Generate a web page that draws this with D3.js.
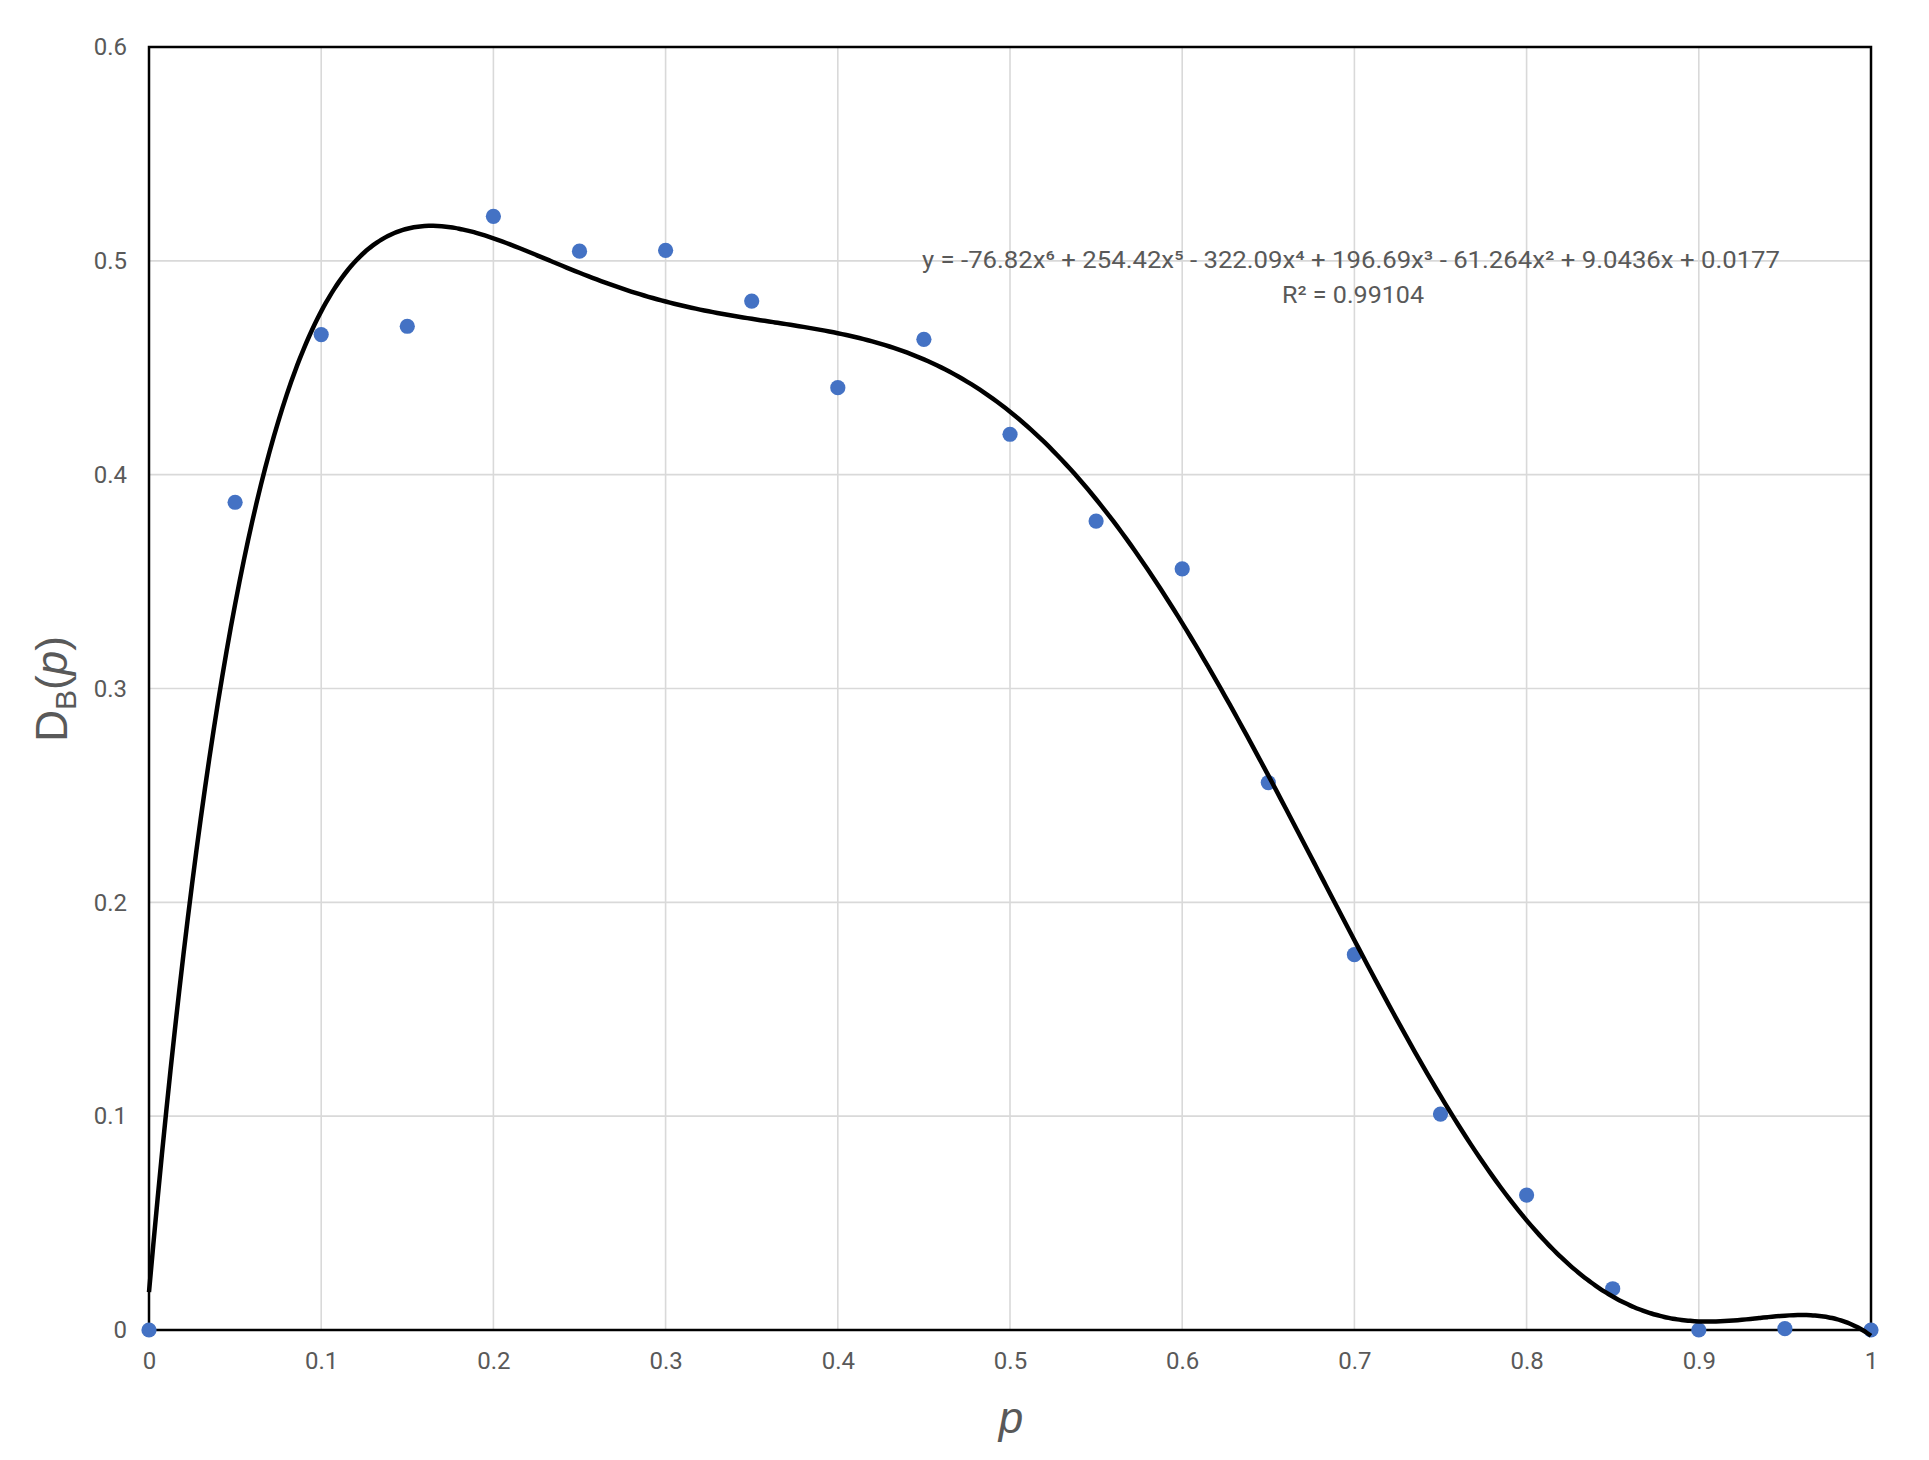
<!DOCTYPE html>
<html>
<head>
<meta charset="utf-8">
<script src="https://cdn.jsdelivr.net/npm/d3@7"></script>
<style>
  html, body { margin: 0; padding: 0; background: #ffffff; }
  svg { display: block; }
  text { font-family: "Roboto", "Liberation Sans", sans-serif; fill: #595959; }
</style>
</head>
<body>
<svg id="chart" width="1929" height="1460"></svg>
<script>
// ---- data ----
const pValues = [0, 0.05, 0.1, 0.15, 0.2, 0.25, 0.3, 0.35, 0.4, 0.45, 0.5, 0.55, 0.6, 0.65, 0.7, 0.75, 0.8, 0.85, 0.9, 0.95, 1];
const dbValues = [0, 0.3871, 0.4655, 0.4694, 0.5208, 0.5045, 0.5049, 0.4812, 0.4407, 0.4633, 0.4189, 0.3783, 0.3559, 0.2560, 0.1755, 0.1010, 0.0631, 0.0193, 0, 0.0006, 0];
// polynomial trendline coefficients (highest power first), as printed on the chart
const trendCoefficients = [-76.82, 254.42, -322.09, 196.69, -61.264, 9.0436, 0.0177];
const xTicks = [0, 0.1, 0.2, 0.3, 0.4, 0.5, 0.6, 0.7, 0.8, 0.9, 1];
const yTicks = [0, 0.1, 0.2, 0.3, 0.4, 0.5, 0.6];
const equationText = "y = -76.82x\u2076 + 254.42x\u2075 - 322.09x\u2074 + 196.69x\u00B3 - 61.264x\u00B2 + 9.0436x + 0.0177";
const r2Text = "R\u00B2 = 0.99104";

// ---- layout ----
const svg = d3.select("#chart");
const plotLeft = 149, plotRight = 1871, plotTop = 47, plotBottom = 1330;
const x = d3.scaleLinear().domain([0, 1]).range([plotLeft, plotRight]);
const y = d3.scaleLinear().domain([0, 0.6]).range([plotBottom, plotTop]);

// gridlines
const grid = svg.append("g");
grid.selectAll("line.v").data(xTicks.filter(t => t > 0 && t < 1)).join("line").attr("class", "v")
  .attr("x1", d => x(d)).attr("x2", d => x(d)).attr("y1", plotTop).attr("y2", plotBottom)
  .attr("stroke", "#d9d9d9").attr("stroke-width", 1.6);
grid.selectAll("line.h").data(yTicks.filter(t => t > 0 && t < 0.6)).join("line").attr("class", "h")
  .attr("x1", plotLeft).attr("x2", plotRight).attr("y1", d => y(d)).attr("y2", d => y(d))
  .attr("stroke", "#d9d9d9").attr("stroke-width", 1.6);

// plot border
svg.append("rect").attr("x", plotLeft).attr("y", plotTop).attr("width", plotRight - plotLeft).attr("height", plotBottom - plotTop)
  .attr("fill", "none").attr("stroke", "#000").attr("stroke-width", 2.5);

// axes (labels only, via d3 axes)
const xAxis = svg.append("g").attr("transform", `translate(0,${plotBottom})`)
  .call(d3.axisBottom(x).tickValues(xTicks).tickFormat(d3.format("~g")).tickSize(0).tickPadding(22));
const yAxis = svg.append("g").attr("transform", `translate(${plotLeft},0)`)
  .call(d3.axisLeft(y).tickValues(yTicks).tickFormat(d3.format("~g")).tickSize(0).tickPadding(22));
[xAxis, yAxis].forEach(a => {
  a.select(".domain").remove();
  a.selectAll("text").attr("font-size", 24).attr("fill", "#595959")
    .style("font-family", '"Roboto", sans-serif');
});

// markers
svg.append("g").selectAll("circle").data(pValues.map((p, i) => [p, dbValues[i]])).join("circle")
  .attr("cx", d => x(d[0])).attr("cy", d => y(d[1])).attr("r", 7.6).attr("fill", "#4472c4");

// trendline
const poly = t => trendCoefficients.reduce((acc, c) => acc * t + c, 0);
const samples = d3.range(0, 1.0001, 0.0025).map(t => [t, poly(t)]);
svg.append("path").datum(samples)
  .attr("d", d3.line().x(d => x(d[0])).y(d => y(d[1])).curve(d3.curveMonotoneX))
  .attr("fill", "none").attr("stroke", "#000").attr("stroke-width", 4.5).attr("stroke-linejoin", "round");

// equation
svg.append("text").attr("x", 1351).attr("y", 268).attr("text-anchor", "middle")
  .attr("font-size", 24).attr("textLength", 858).attr("lengthAdjust", "spacingAndGlyphs")
  .text(equationText);
svg.append("text").attr("x", 1353).attr("y", 303).attr("text-anchor", "middle")
  .attr("font-size", 24).attr("textLength", 142).attr("lengthAdjust", "spacingAndGlyphs")
  .text(r2Text);

// axis titles
svg.append("text").attr("x", 1011).attr("y", 1433).attr("text-anchor", "middle")
  .attr("font-size", 44).attr("font-style", "italic").style("font-family", '"Liberation Sans", "Roboto", sans-serif')
  .text("p");
const yt = svg.append("text").attr("transform", "translate(67,689) rotate(-90)").attr("text-anchor", "middle")
  .attr("font-size", 44).style("font-family", '"Liberation Sans", "Roboto", sans-serif');
yt.append("tspan").text("D");
yt.append("tspan").attr("font-size", 30).attr("dy", 9).text("B");
yt.append("tspan").attr("dy", -9).text("(");
yt.append("tspan").attr("font-style", "italic").text("p");
yt.append("tspan").text(")");
</script>
</body>
</html>
